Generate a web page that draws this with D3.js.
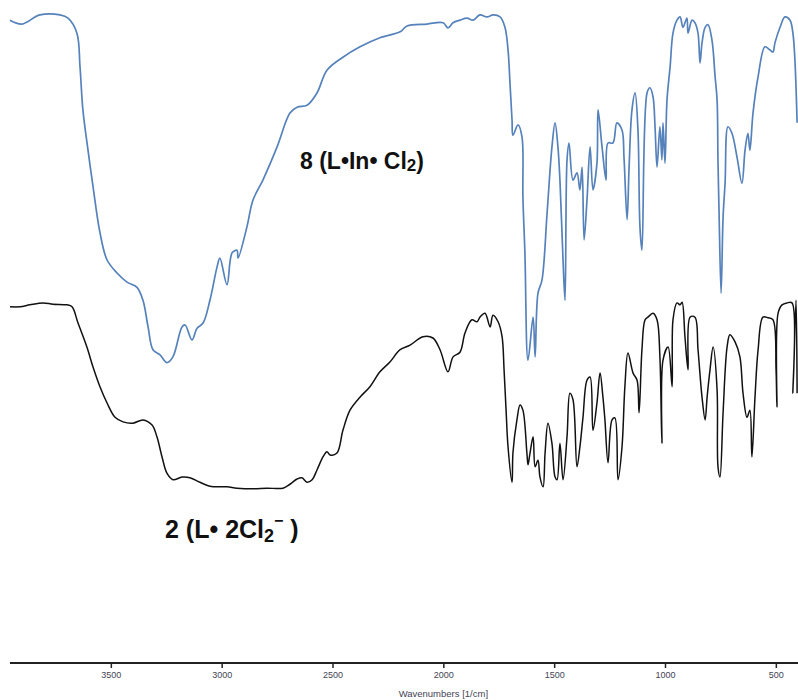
<!DOCTYPE html>
<html>
<head>
<meta charset="utf-8">
<script src="https://cdn.jsdelivr.net/npm/d3@7"></script>
<style>
  html, body { margin: 0; padding: 0; background: #fff; }
  svg { display: block; }
  .label { font-family: "Liberation Sans", Arial, sans-serif; font-weight: bold; fill: #111; }
  .tick text { font-family: "Liberation Sans", Arial, sans-serif; }
</style>
</head>
<body>
<svg id="chart"></svg>
<script>
// wavenumber (1/cm), transmittance (a.u., offset overlay)
const spectrum8 = [
  [3955, 96.9], [3901, 96.3], [3820, 97.7], [3729, 97.7], [3693, 97.2], [3653, 94.9],
  [3639, 89.7], [3626, 83.1], [3603, 76.9], [3580, 71.2], [3549, 64.2], [3517, 60.0],
  [3472, 58.0], [3427, 56.6], [3382, 55.8], [3355, 53.8], [3332, 49.7], [3310, 46.2],
  [3278, 45.4], [3247, 44.2], [3220, 45.1], [3179, 49.7], [3165, 50.0], [3134, 47.7],
  [3111, 49.5], [3084, 50.3], [3053, 53.8], [3021, 58.9], [3008, 60.3], [2976, 56.2],
  [2953, 61.1], [2931, 61.5], [2926, 60.3], [2886, 65.1], [2859, 69.2], [2814, 72.3],
  [2750, 77.4], [2692, 82.6], [2660, 83.5], [2615, 83.8], [2570, 85.7], [2525, 89.2],
  [2453, 91.2], [2376, 92.8], [2286, 94.2], [2195, 95.1], [2164, 96.0], [2074, 96.3],
  [2001, 96.5], [1979, 95.7], [1956, 96.5], [1925, 96.9], [1893, 97.2], [1866, 96.9],
  [1835, 97.7], [1803, 97.4], [1776, 97.7], [1744, 97.4], [1722, 95.8], [1708, 92.3],
  [1699, 87.0], [1690, 81.5], [1686, 79.2], [1663, 80.8], [1645, 78.9], [1641, 69.7],
  [1632, 61.1], [1618, 44.6], [1595, 51.2], [1586, 45.1], [1573, 54.9], [1555, 56.9],
  [1532, 67.2], [1510, 77.4], [1496, 81.1], [1483, 77.4], [1474, 72.3], [1460, 60.0],
  [1451, 53.8], [1442, 75.4], [1433, 78.0], [1415, 72.3], [1397, 73.4], [1384, 70.8],
  [1374, 74.3], [1365, 63.1], [1352, 69.2], [1338, 77.4], [1325, 70.8], [1307, 74.9],
  [1302, 83.1], [1284, 77.4], [1266, 72.3], [1257, 78.0], [1235, 78.0], [1217, 81.1],
  [1194, 80.0], [1185, 75.8], [1171, 66.2], [1162, 74.3], [1149, 83.1], [1135, 85.7],
  [1122, 80.0], [1113, 65.1], [1104, 61.5], [1081, 85.7], [1068, 86.5], [1054, 85.1],
  [1045, 80.5], [1036, 74.3], [1023, 80.5], [1014, 75.4], [1009, 81.1], [1000, 74.9],
  [991, 84.6], [977, 89.7], [964, 94.9], [946, 96.9], [932, 97.4], [919, 95.8],
  [901, 97.2], [896, 94.9], [878, 96.9], [865, 96.5], [851, 94.9], [842, 90.3],
  [833, 93.4], [819, 95.8], [806, 96.2], [788, 93.8], [774, 88.2], [765, 84.6],
  [761, 75.4], [756, 67.2], [747, 54.9], [738, 66.6], [729, 71.8], [716, 80.5],
  [698, 79.5], [675, 75.8], [653, 71.8], [639, 76.9], [626, 79.5], [617, 76.9],
  [603, 82.6], [580, 88.2], [549, 92.8], [526, 92.3], [513, 92.0], [504, 93.4],
  [481, 95.8], [459, 97.4], [436, 96.9], [423, 94.9], [414, 90.8], [404, 81.1]
];

const spectrum2 = [
  [3955, 52.8], [3910, 52.8], [3865, 53.1], [3806, 53.4], [3761, 53.2], [3698, 53.1],
  [3675, 52.8], [3648, 50.3], [3608, 46.6], [3580, 43.5], [3549, 40.5], [3517, 38.0],
  [3481, 35.8], [3445, 35.1], [3400, 34.9], [3355, 35.4], [3314, 34.6], [3292, 32.8],
  [3269, 29.7], [3247, 27.2], [3220, 26.2], [3179, 26.6], [3143, 26.5], [3098, 25.8],
  [3053, 25.2], [2976, 25.1], [2931, 24.9], [2859, 24.8], [2796, 24.9], [2723, 24.9],
  [2692, 25.5], [2660, 26.3], [2638, 26.5], [2615, 25.8], [2592, 26.2], [2570, 27.7],
  [2543, 29.7], [2525, 30.5], [2511, 30.0], [2480, 30.3], [2453, 33.8], [2421, 36.9],
  [2376, 38.9], [2331, 40.5], [2286, 42.8], [2241, 44.3], [2195, 46.2], [2150, 46.9],
  [2092, 48.2], [2047, 48.0], [2015, 46.2], [1979, 42.8], [1956, 45.1], [1925, 45.8],
  [1902, 48.8], [1871, 50.8], [1848, 50.5], [1835, 51.2], [1812, 51.8], [1789, 49.7],
  [1776, 51.5], [1753, 50.5], [1735, 48.2], [1726, 43.1], [1717, 36.9], [1708, 31.2],
  [1690, 25.8], [1686, 30.3], [1668, 35.4], [1654, 37.7], [1641, 36.9], [1623, 30.3],
  [1618, 28.5], [1609, 30.3], [1595, 32.8], [1586, 28.2], [1573, 29.2], [1564, 26.6],
  [1550, 25.1], [1541, 30.3], [1528, 34.9], [1510, 31.8], [1496, 26.6], [1487, 26.2],
  [1474, 31.8], [1460, 26.2], [1442, 32.8], [1429, 39.5], [1415, 38.5], [1397, 28.2],
  [1384, 31.2], [1370, 35.8], [1352, 41.5], [1338, 42.0], [1325, 33.8], [1307, 38.0],
  [1293, 42.6], [1280, 38.9], [1271, 35.4], [1257, 28.8], [1239, 35.4], [1226, 35.7],
  [1212, 26.2], [1194, 31.2], [1181, 40.5], [1167, 45.7], [1144, 42.6], [1126, 41.5],
  [1117, 36.5], [1104, 46.2], [1090, 50.8], [1077, 51.2], [1054, 51.8], [1036, 50.8],
  [1023, 45.1], [1014, 31.8], [1009, 44.6], [986, 46.6], [968, 40.5], [964, 50.8],
  [946, 53.4], [932, 53.1], [923, 53.5], [910, 48.2], [896, 43.1], [887, 51.2],
  [865, 51.2], [851, 46.2], [833, 38.9], [819, 35.4], [810, 38.9], [797, 43.1],
  [783, 46.6], [765, 40.0], [761, 28.2], [752, 26.6], [738, 36.5], [720, 46.6],
  [707, 48.5], [684, 47.4], [662, 45.1], [648, 39.5], [630, 35.8], [617, 36.9],
  [608, 29.7], [594, 38.9], [580, 46.2], [558, 51.2], [535, 51.1], [513, 50.8],
  [499, 43.1], [495, 37.4], [490, 51.8], [472, 53.1], [450, 53.4], [427, 53.4],
  [423, 39.5], [409, 53.8], [404, 39.5]
];

const tickValues = [3500, 3000, 2500, 2000, 1500, 1000, 500];
const axisTitle = 'Wavenumbers [1/cm]';

const width = 798;
const height = 700;

const svg = d3.select('#chart').attr('width', width).attr('height', height);

const x = d3.scaleLinear().domain([4000, 400]).range([0, width]);
const y = d3.scaleLinear().domain([0, 100]).range([650, 0]);

const line = d3.line()
  .x(d => x(d[0]))
  .y(d => y(d[1]))
  .curve(d3.curveCatmullRom.alpha(0.5));

svg.append('path')
  .datum(spectrum8)
  .attr('fill', 'none')
  .attr('stroke', '#5682bb')
  .attr('stroke-width', 1.7)
  .attr('stroke-linejoin', 'round')
  .attr('d', line);

svg.append('path')
  .datum(spectrum2)
  .attr('fill', 'none')
  .attr('stroke', '#111')
  .attr('stroke-width', 1.5)
  .attr('stroke-linejoin', 'round')
  .attr('d', line);

// bottom axis
const axisY = 663;
const axis = svg.append('g')
  .attr('transform', `translate(0,${axisY})`)
  .call(d3.axisBottom(x)
    .tickValues(tickValues)
    .tickFormat(d3.format('d'))
    .tickSize(5)
    .tickSizeOuter(0)
    .tickPadding(4));

axis.select('.domain')
  .attr('d', `M${x(spectrum8[0][0])},0H${width}`)
  .attr('stroke', '#222')
  .attr('stroke-width', 2);
axis.selectAll('.tick line').attr('stroke', '#222').attr('stroke-width', 1.5);
axis.selectAll('.tick text').attr('font-size', 9).attr('fill', '#445');

svg.append('text')
  .attr('x', x(2000))
  .attr('y', 697)
  .attr('text-anchor', 'middle')
  .attr('font-family', 'Liberation Sans, Arial, sans-serif')
  .attr('font-size', 9.5)
  .attr('fill', '#445')
  .text(axisTitle);

// series labels
const lab8 = svg.append('text')
  .attr('class', 'label')
  .attr('x', 300)
  .attr('y', 169)
  .attr('font-size', 23);
lab8.append('tspan').text('8 (L•In• Cl');
lab8.append('tspan').attr('font-size', 17).attr('dy', 2).text('2');
lab8.append('tspan').attr('dy', -2).text(')');

const lab2 = svg.append('text')
  .attr('class', 'label')
  .attr('x', 165)
  .attr('y', 538)
  .attr('font-size', 25);
lab2.append('tspan').text('2 (L• 2Cl');
lab2.append('tspan').attr('font-size', 18).attr('dy', 4).text('2');
lab2.append('tspan').attr('font-size', 16).attr('dy', -16).text('\u2212');
lab2.append('tspan').attr('dy', 12).text(' )');
</script>
</body>
</html>
